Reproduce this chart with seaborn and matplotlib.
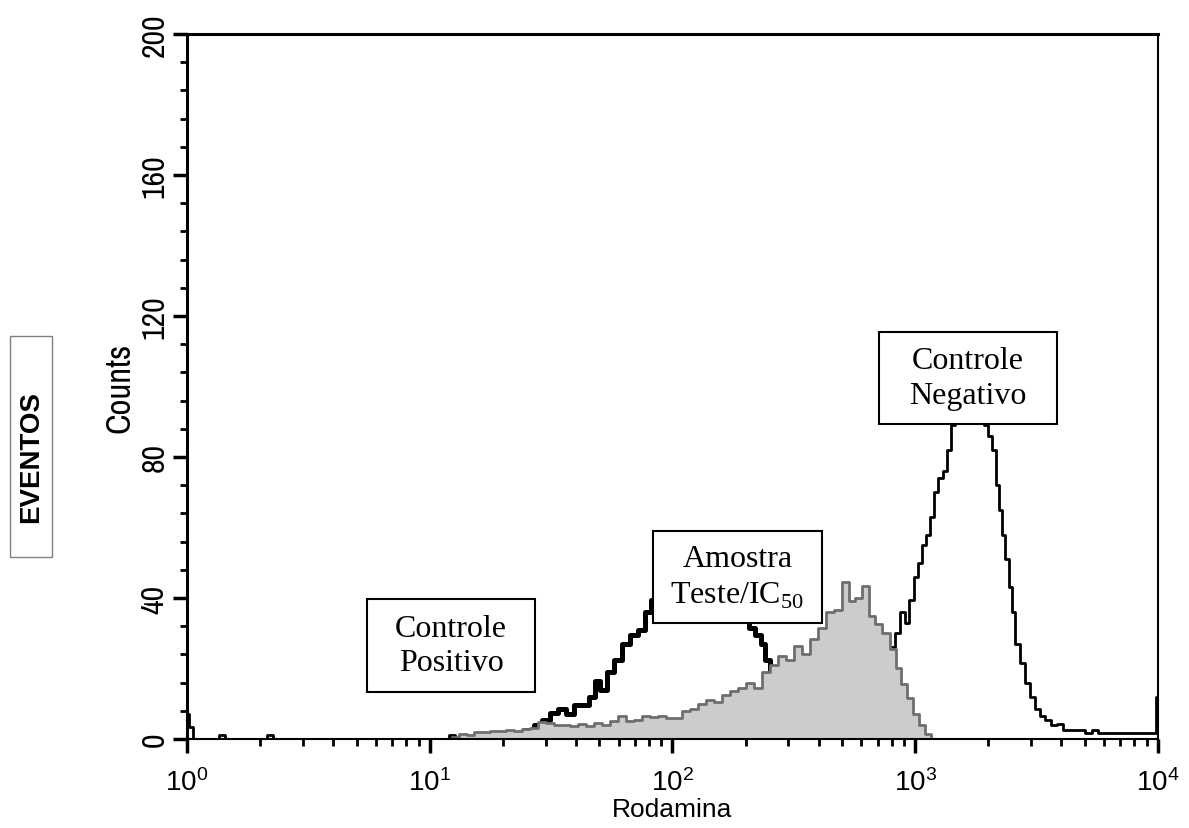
import matplotlib
matplotlib.use('Agg')
import matplotlib.pyplot as plt
import matplotlib.ticker as mticker
from matplotlib import font_manager
from matplotlib.patches import Rectangle
import seaborn as sns

# flow cytometry histograms (Rodamina vs counts)
# Amostra Teste / IC50 (gray filled)
amostra_x = [1.0, 12.0, 12.71, 13.71, 14.65, 15.81, 17.05, 18.40, 19.84, 21.41, 23.09, 24.92,
             26.88, 29.00, 31.29, 33.76, 36.42, 39.29, 42.39, 45.73, 49.34, 53.23, 57.42,
             61.95, 66.84, 72.11, 77.79, 83.93, 90.54, 97.66, 105.4, 113.7, 122.6, 132.3,
             142.7, 154.0, 166.1, 179.2, 193.3, 208.6, 225.0, 242.8, 261.9, 282.6, 304.8,
             328.9, 354.8, 382.8, 413.0, 445.5, 480.6, 518.5, 548.8, 581.0, 626.8, 663.4,
             702.5, 757.9, 809.7, 849.1, 898.8, 951.5, 1007, 1066, 1129, 1195, 10000]
amostra_y = [0, 0, 0.5, 1.5, 1.0, 2.0, 2.0, 2.3, 2.3, 2.5, 2.3, 2.8,
             3.0, 4.8, 4.5, 4.0, 4.0, 3.6, 4.2, 3.8, 4.5, 4.0, 5.2,
             6.5, 5.0, 5.5, 6.5, 6.2, 6.5, 6.0, 6.0, 8.0, 8.5, 10.0,
             11.0, 10.5, 12.5, 13.5, 14.5, 16.0, 14.5, 19.0, 21.0, 23.5, 22.5,
             26.5, 24.0, 28.5, 31.5, 36.0, 36.5, 44.5, 39.0, 40.0, 43.5, 35.0,
             32.5, 30.0, 25.5, 20.0, 15.5, 11.5, 7.0, 4.0, 1.5, 0, 0]

# Controle Positivo (thick black)
positivo_x = [23.5, 25.9, 27.9, 30.1, 32.5, 35.0, 37.8, 40.8, 44.0, 46.6, 48.9, 51.7,
              55.3, 59.6, 64.3, 69.4, 74.9, 79.3, 83.9, 92.3, 103.4, 115.8, 129.8, 145.4,
              163.0, 182.6, 200.9, 212.6, 225.0, 236.0, 245.1, 257.0, 272.0, 293.5, 322.7,
              354.8, 390.1, 429.0]
positivo_y = [1.5, 2.5, 4.0, 5.5, 7.5, 8.5, 7.0, 9.5, 9.5, 12.0, 16.5, 14.0,
              19.0, 22.5, 27.0, 29.5, 31.0, 36.0, 39.5, 44.0, 48.0, 50.0, 51.0, 49.0,
              45.0, 40.0, 34.0, 31.5, 29.5, 27.0, 22.5, 19.5, 15.0, 10.0, 6.0,
              3.0, 1.0, 0]

# Controle Negativo (thin black)
negativo_x = [1.0, 1.039, 1.079, 1.317, 1.394, 1.475, 2.076, 2.197, 2.326, 11.67, 12.35,
              13.07, 300.0, 335.2, 405.2, 489.8, 592.1, 682.9, 750.8, 802.1, 841.1, 882.0,
              924.8, 960.5, 1007, 1046, 1086, 1129, 1172, 1218, 1265, 1327, 1378, 1430,
              1500, 1588, 1681, 1779, 1884, 1956, 2032, 2110, 2192, 2255, 2320, 2388,
              2457, 2528, 2625, 2753, 2887, 3027, 3174, 3328, 3524, 3730, 3948, 4178,
              4508, 4864, 5147, 5502, 5768, 7669, 9719, 10000]
negativo_y = [7.0, 3.5, 0, 0, 1.2, 0, 0, 1.2, 0, 0, 1.2,
              0, 0, 0.5, 2.0, 5.0, 10.0, 17.0, 22.0, 26.0, 30.0, 36.0,
              33.0, 39.5, 46.0, 50.0, 55.0, 58.0, 63.0, 70.0, 74.0, 76.0, 82.0, 89.0,
              93.0, 96.0, 97.0, 95.0, 91.0, 89.0, 86.0, 82.0, 72.0, 65.0, 58.0, 51.0,
              43.0, 36.0, 27.0, 21.5, 16.0, 12.0, 8.5, 6.5, 5.5, 4.0, 4.3, 2.6,
              2.6, 2.6, 1.7, 2.6, 1.7, 1.7, 1.7, 12.0]

y_ticks = [0, 40, 80, 120, 160, 200]

sns.set_theme(style='ticks')
plt.rcParams['font.family'] = ['Liberation Sans', 'DejaVu Sans']
plt.rcParams['xtick.labelsize'] = 20

# narrow font for the y axis if there is one, else DejaVu
names = {f.name for f in font_manager.fontManager.ttflist}
if 'Archivo Narrow' in names:
    tick_font, tick_size, lab_size = 'Archivo Narrow', 23, 25
elif 'Asap Condensed' in names:
    tick_font, tick_size, lab_size = 'Asap Condensed', 21, 23
else:
    tick_font, tick_size, lab_size = 'DejaVu Sans', 15, 18
plt.rcParams['ytick.labelsize'] = tick_size

fig, ax = plt.subplots(figsize=(11.89, 8.29), dpi=100)
fig.subplots_adjust(left=0.1573, right=0.9739, bottom=0.1074, top=0.9578)
ax.set_xscale('log')

sns.lineplot(x=negativo_x, y=negativo_y, ax=ax, color='black', lw=2.0,
             drawstyle='steps-mid', estimator=None, zorder=2)
sns.lineplot(x=positivo_x, y=positivo_y, ax=ax, color='black', lw=3.6,
             drawstyle='steps-mid', estimator=None, zorder=2)
ax.fill_between(amostra_x, amostra_y, step='mid', color='#cccccc', lw=0, zorder=3)
sns.lineplot(x=amostra_x, y=amostra_y, ax=ax, color='#6e6e6e', lw=2.0,
             drawstyle='steps-mid', estimator=None, zorder=4)

ax.set_xlim(1, 10000)
ax.set_ylim(0, 200)
ax.xaxis.set_major_locator(mticker.LogLocator(base=10, numticks=10))
ax.xaxis.set_minor_locator(mticker.LogLocator(base=10, subs=range(2, 10), numticks=20))
ax.xaxis.set_minor_formatter(mticker.NullFormatter())
ax.yaxis.set_major_locator(mticker.FixedLocator(y_ticks))
ax.yaxis.set_minor_locator(mticker.MultipleLocator(8))

ax.tick_params(axis='both', which='both', direction='out', color='black', labelcolor='black')
ax.tick_params(axis='x', which='major', length=10, width=2.5, labelsize=20, pad=11)
ax.tick_params(axis='x', which='minor', length=5, width=2)
ax.tick_params(axis='y', which='major', length=10, width=2.5, pad=3.5, labelsize=tick_size,
               labelrotation=90, labelfontfamily=tick_font)
ax.tick_params(axis='y', which='minor', length=5, width=2)

ax.set_xlabel('Rodamina', fontsize=19, color='black', labelpad=1)
ax.set_ylabel('Counts', fontsize=lab_size, family=tick_font, color='black')
ax.yaxis.set_label_coords(-0.070, 0.5)
ax.yaxis.label.set_va('center')

for side in ['left', 'top']:
    ax.spines[side].set_linewidth(2.2)
ax.spines['bottom'].set_linewidth(1.5)
ax.spines['right'].set_linewidth(1.5)
for s in ax.spines.values():
    s.set_color('black')
    s.set_zorder(6)

# label boxes (axes fraction)
boxes = [
    (0.1854, 0.0667, 0.3584, 0.1986, 'Controle\nPositivo'),
    (0.4799, 0.1645, 0.6540, 0.2950, 'Amostra\nTeste/IC$_{\\mathregular{50}}$'),
    (0.7127, 0.4468, 0.8960, 0.5773, 'Controle\nNegativo'),
]
for x0, y0, x1, y1, txt in boxes:
    ax.add_patch(Rectangle((x0, y0), x1 - x0, y1 - y0, transform=ax.transAxes,
                           facecolor='white', edgecolor='black', lw=1.5, zorder=7))
    ax.text((x0 + x1) / 2, (y0 + y1) / 2, txt, transform=ax.transAxes, ha='center',
            va='center', fontsize=23, family='Liberation Serif', linespacing=1.25,
            color='black', zorder=8)

# EVENTOS box on the far left
fig.patches.append(Rectangle((0.0084, 0.3269), 0.0353, 0.2666, transform=fig.transFigure,
                             facecolor='white', edgecolor='#808080', lw=1.0))
fig.text(0.0261, 0.4487, 'EVENTOS', rotation=90, ha='center', va='center',
         fontsize=20, fontweight='bold', family='Liberation Sans', color='black')

for lbl in ax.get_yticklabels():
    lbl.set_va('center')
    lbl.set_ha('right')

fig.savefig('out.png', dpi=100)
